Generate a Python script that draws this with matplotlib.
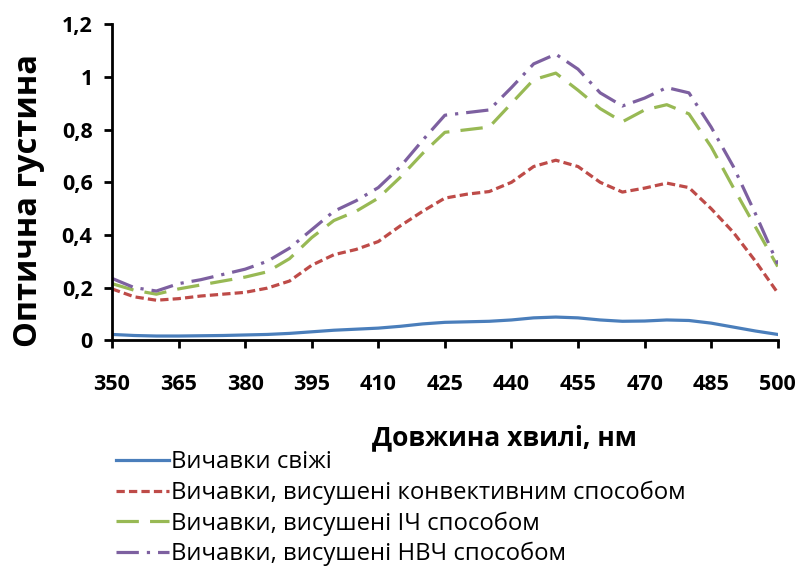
import matplotlib
matplotlib.use('Agg')
import matplotlib.pyplot as plt
from matplotlib.ticker import FuncFormatter, MultipleLocator

plt.rcParams['font.family'] = ['Open Sans', 'DejaVu Sans']

# Дані
hvyli = [350, 355, 360, 365, 370, 375, 380, 385, 390, 395, 400, 405, 410, 415, 420,
         425, 430, 435, 440, 445, 450, 455, 460, 465, 470, 475, 480, 485, 490, 495, 500]

svizhi = [0.022, 0.018, 0.016, 0.016, 0.017, 0.018, 0.020, 0.022, 0.026, 0.032, 0.038,
          0.042, 0.046, 0.053, 0.062, 0.068, 0.070, 0.072, 0.077, 0.085, 0.088, 0.085,
          0.077, 0.072, 0.073, 0.077, 0.075, 0.065, 0.050, 0.035, 0.022]

konvektyvni = [0.195, 0.165, 0.152, 0.158, 0.168, 0.175, 0.182, 0.198, 0.225, 0.285, 0.325,
               0.345, 0.375, 0.435, 0.49, 0.54, 0.555, 0.565, 0.60, 0.66, 0.684, 0.66,
               0.60, 0.563, 0.578, 0.597, 0.58, 0.50, 0.41, 0.30, 0.18]

ich = [0.215, 0.19, 0.175, 0.195, 0.21, 0.225, 0.24, 0.26, 0.31, 0.39, 0.455,
       0.49, 0.54, 0.62, 0.71, 0.79, 0.80, 0.81, 0.90, 0.99, 1.015, 0.95,
       0.88, 0.83, 0.875, 0.895, 0.86, 0.735, 0.58, 0.43, 0.28]

nvch = [0.235, 0.20, 0.187, 0.215, 0.23, 0.25, 0.27, 0.30, 0.35, 0.42, 0.49,
        0.53, 0.58, 0.66, 0.76, 0.855, 0.865, 0.875, 0.96, 1.05, 1.087, 1.03,
        0.94, 0.89, 0.92, 0.96, 0.94, 0.81, 0.66, 0.48, 0.29]

x_ticks = [350, 365, 380, 395, 410, 425, 440, 455, 470, 485, 500]

nazvy = ['Вичавки свіжі',
         'Вичавки, висушені конвективним способом',
         'Вичавки, висушені ІЧ способом',
         'Вичавки, висушені НВЧ способом']

fig = plt.figure(figsize=(8.03, 5.68), dpi=100)
ax = fig.add_axes([0.1395, 0.401, 0.829, 0.556])

lw = 2.3
ax.plot(hvyli, svizhi, color='#4a7ebb', lw=lw, label=nazvy[0])
ax.plot(hvyli, konvektyvni, color='#be4b48', lw=lw, dashes=(2.6, 1.3), label=nazvy[1])
ax.plot(hvyli, ich, color='#98b954', lw=lw, dashes=(7, 3.5), label=nazvy[2])
ax.plot(hvyli, nvch, color='#7d60a0', lw=lw, dashes=(7, 2.5, 1, 2.5), label=nazvy[3])

ax.set_xlim(350, 500)
ax.set_ylim(0, 1.2)
ax.set_xticks(x_ticks)
ax.yaxis.set_major_locator(MultipleLocator(0.2))
ax.yaxis.set_major_formatter(FuncFormatter(lambda v, p: ('%g' % round(v, 1)).replace('.', ',')))

for s in ['top', 'right']:
    ax.spines[s].set_visible(False)
for s in ['left', 'bottom']:
    ax.spines[s].set_linewidth(2)
ax.tick_params(direction='out', length=6, width=2, labelsize=15.5)
ax.tick_params(axis='x', pad=18)
ax.tick_params(axis='y', pad=8)
for t in ax.get_xticklabels() + ax.get_yticklabels():
    t.set_fontweight('bold')

ax.set_xlabel('Довжина хвилі, нм', fontsize=19, fontweight='bold')
ax.xaxis.set_label_coords(0.59, -0.265)
ax.set_ylabel('Оптична густина', fontsize=23.5, fontweight='bold')
ax.yaxis.set_label_coords(-0.10, 0.443)

fig.legend(loc='upper left', bbox_to_anchor=(0.145, 0.207), frameon=False,
           fontsize=17.2, handlelength=2.2, handletextpad=0.1, labelspacing=0.26,
           borderaxespad=0, borderpad=0)

fig.savefig('out.png', dpi=100)
